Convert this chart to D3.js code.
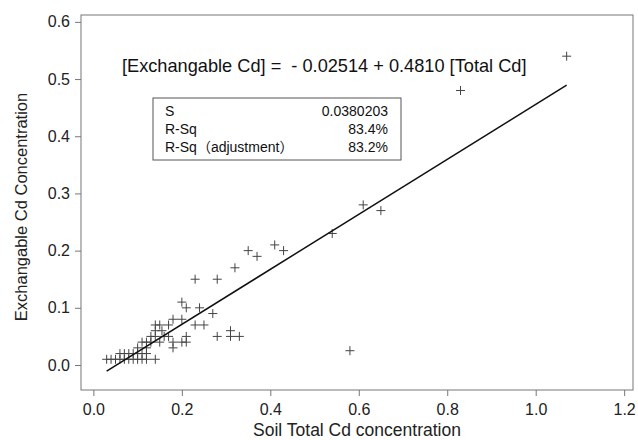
<!DOCTYPE html>
<html lang="en">
<head>
    <meta charset="UTF-8">
    <title>Exchangable Cd vs Soil Total Cd</title>
    <script src="https://d3js.org/d3.v7.min.js"></script>
    <style>
        html, body {
            margin: 0;
            padding: 0;
            background: #fff;
        }

        svg {
            display: block;
            font-family: "Liberation Sans", Arial, "Noto Sans CJK SC", sans-serif;
        }

        .axis text {
            font-size: 16px;
            fill: #222;
        }

        .axis line {
            stroke: #777;
        }
    </style>
</head>
<body>
    <svg id="chart" width="638" height="440"></svg>

    <script>
        // soil total Cd (x) and exchangeable Cd (y)
        var totalCd = [
            0.03, 0.04, 0.05, 0.06, 0.07, 0.08, 0.09, 0.10, 0.11, 0.12, 0.14,
            0.06, 0.07, 0.08, 0.09, 0.10, 0.11, 0.12,
            0.10, 0.12, 0.18,
            0.11, 0.12, 0.13, 0.15, 0.18, 0.20, 0.21,
            0.13, 0.14, 0.16, 0.17, 0.21, 0.28, 0.31, 0.33,
            0.14, 0.155, 0.31,
            0.14, 0.15, 0.17, 0.23, 0.25,
            0.18, 0.20,
            0.27,
            0.21, 0.24,
            0.20,
            0.23, 0.28,
            0.32, 0.35, 0.37, 0.41, 0.43, 0.54, 0.58, 0.61, 0.65, 0.83, 1.07
        ];
        var exchCd = [
            0.01, 0.01, 0.01, 0.01, 0.01, 0.01, 0.01, 0.01, 0.01, 0.01, 0.01,
            0.02, 0.02, 0.02, 0.02, 0.02, 0.02, 0.02,
            0.03, 0.03, 0.03,
            0.04, 0.04, 0.04, 0.04, 0.04, 0.04, 0.04,
            0.05, 0.05, 0.05, 0.05, 0.05, 0.05, 0.05, 0.05,
            0.06, 0.06, 0.06,
            0.07, 0.07, 0.07, 0.07, 0.07,
            0.08, 0.08,
            0.09,
            0.10, 0.10,
            0.11,
            0.15, 0.15,
            0.17, 0.20, 0.19, 0.21, 0.20, 0.23, 0.025, 0.28, 0.27, 0.48, 0.54
        ];

        var xTicks = [0.0, 0.2, 0.4, 0.6, 0.8, 1.0, 1.2];
        var yTicks = [0.0, 0.1, 0.2, 0.3, 0.4, 0.5, 0.6];

        // fitted line
        var intercept = -0.02514;
        var slope = 0.4810;
        var fitRange = [0.03, 1.07];

        var statLabels = ["S", "R-Sq", "R-Sq\uff08adjustment\uff09"];
        var statValues = ["0.0380203", "83.4%", "83.2%"];

        var box = {left: 81, right: 633, top: 15, bottom: 390};

        var x = d3.scaleLinear().domain([-0.028, 1.22]).range([box.left, box.right]);
        var y = d3.scaleLinear().domain([-0.0437, 0.612]).range([box.bottom, box.top]);

        var svg = d3.select("#chart");

        svg.append("g")
            .attr("class", "axis")
            .attr("transform", "translate(0," + box.bottom + ")")
            .call(d3.axisBottom(x).tickValues(xTicks).tickFormat(d3.format(".1f"))
                .tickSize(6).tickSizeOuter(0).tickPadding(8))
            .call(g => g.select(".domain").remove());

        svg.append("g")
            .attr("class", "axis")
            .attr("transform", "translate(" + box.left + ",0)")
            .call(d3.axisLeft(y).tickValues(yTicks).tickFormat(d3.format(".1f"))
                .tickSize(6).tickSizeOuter(0).tickPadding(5))
            .call(g => g.select(".domain").remove());

        // plot frame
        svg.append("rect")
            .attr("x", box.left)
            .attr("y", box.top)
            .attr("width", box.right - box.left)
            .attr("height", box.bottom - box.top)
            .attr("fill", "none")
            .attr("stroke", "#777");

        // points as plus signs
        var pts = totalCd.map(function(d, i) { return {x: d, y: exchCd[i]}; });
        svg.append("g")
            .selectAll("path")
            .data(pts)
            .enter().append("path")
            .attr("transform", function(d) { return "translate(" + x(d.x) + "," + y(d.y) + ")"; })
            .attr("d", "M-4.5,0H4.5M0,-4.5V4.5")
            .attr("stroke", "#444")
            .attr("stroke-width", 1)
            .attr("fill", "none");

        // regression line
        svg.append("line")
            .attr("x1", x(fitRange[0]))
            .attr("y1", y(intercept + slope * fitRange[0]))
            .attr("x2", x(fitRange[1]))
            .attr("y2", y(intercept + slope * fitRange[1]))
            .attr("stroke", "#111")
            .attr("stroke-width", 1.5);

        // equation
        svg.append("text")
            .attr("x", 122)
            .attr("y", 72)
            .attr("font-size", 18.2)
            .attr("fill", "#111")
            .attr("xml:space", "preserve")
            .text("[Exchangable Cd] =  - 0.02514 + 0.4810 [Total Cd]");

        // stats box
        svg.append("rect")
            .attr("x", 153)
            .attr("y", 98)
            .attr("width", 248)
            .attr("height", 62)
            .attr("fill", "#fff")
            .attr("stroke", "#555");

        var rows = svg.append("g").selectAll("g")
            .data(statLabels)
            .enter().append("g")
            .attr("transform", function(d, i) { return "translate(0," + (115.5 + i * 18.3) + ")"; });

        rows.append("text")
            .attr("x", 165)
            .attr("font-size", 14)
            .attr("fill", "#111")
            .text(function(d) { return d; });

        rows.append("text")
            .attr("x", 388)
            .attr("text-anchor", "end")
            .attr("font-size", 14)
            .attr("fill", "#111")
            .text(function(d, i) { return statValues[i]; });

        // axis titles
        svg.append("text")
            .attr("x", (box.left + box.right) / 2)
            .attr("y", 436)
            .attr("text-anchor", "middle")
            .attr("font-size", 17.5)
            .attr("fill", "#222")
            .text("Soil Total Cd concentration");

        svg.append("text")
            .attr("transform", "translate(27,207) rotate(-90)")
            .attr("text-anchor", "middle")
            .attr("font-size", 16.5)
            .attr("fill", "#222")
            .text("Exchangable Cd Concentration");
    </script>
</body>
</html>
